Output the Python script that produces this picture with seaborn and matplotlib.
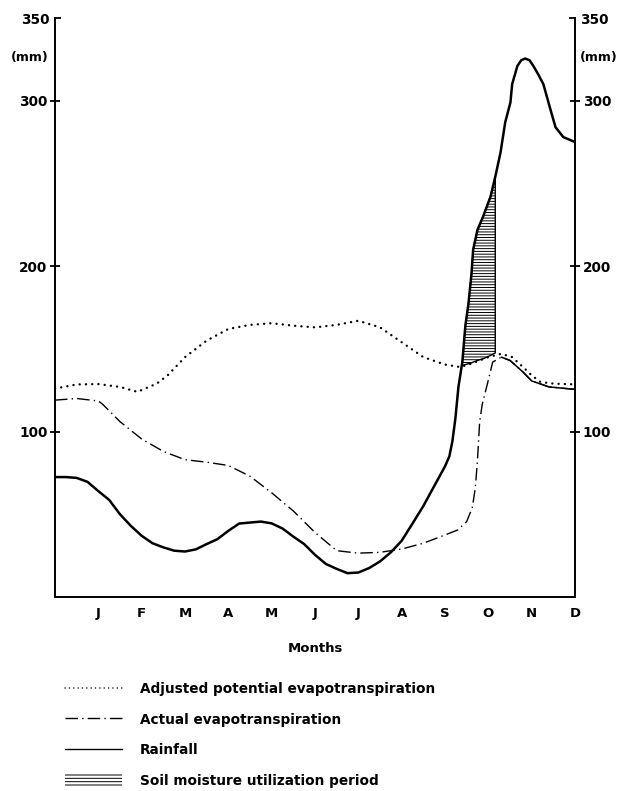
import matplotlib
matplotlib.use("Agg")
import matplotlib.pyplot as plt
from matplotlib.lines import Line2D
from matplotlib.patches import Patch
import seaborn as sns
import pandas as pd

# ---------------- data ----------------
month_labels = ["J", "F", "M", "A", "M", "J", "J", "A", "S", "O", "N", "D"]
month_pos = list(range(1, 13))

pet_month = [0, 0.5, 1.0, 1.5, 1.9, 2.35, 2.6, 3.0, 3.5, 4.0, 4.5, 5.0, 5.5, 6.0,
             6.5, 7.0, 7.5, 8.0, 8.5, 9.0, 9.35, 9.6, 10.0, 10.3, 10.55, 10.8,
             11.0, 11.2, 11.5, 12.0]
pet_value = [126, 128.5, 128.7, 127, 124, 129, 134, 145, 155, 162, 164.5, 165.5,
             164, 163, 164.5, 167, 163, 154, 145, 140.5, 139, 141, 145, 147, 145,
             139, 134, 130, 129, 128.5]

aet_month = [0, 0.5, 1.0, 1.1, 1.5, 2.0, 2.5, 3.0, 3.5, 4.0, 4.5, 5.0, 5.5, 6.0,
             6.5, 7.0, 7.5, 8.0, 8.5, 9.0, 9.3, 9.5, 9.63, 9.7, 9.75, 9.8, 9.86,
             9.98, 10.1, 10.3, 10.5, 10.8, 11.0, 11.4, 12.0]
aet_value = [119, 120, 118.5, 116.5, 106, 95.5, 88, 83, 81.5, 79.5, 73, 63, 52,
             39, 28, 26.5, 27, 29, 32.5, 37.5, 40.6, 45.6, 54, 66, 83, 106, 116.5,
             129, 142, 145, 143, 136, 130.6, 127, 125.5]

rain_month = [0, 0.25, 0.5, 0.75, 1.0, 1.25, 1.5, 1.75, 2.0, 2.25, 2.5, 2.75, 3.0,
              3.25, 3.5, 3.75, 4.0, 4.25, 4.5, 4.75, 5.0, 5.25, 5.5, 5.75, 6.0,
              6.25, 6.5, 6.75, 7.0, 7.25, 7.5, 7.75, 8.0, 8.25, 8.5, 8.75, 9.0,
              9.1, 9.17, 9.24, 9.31, 9.40, 9.47, 9.54, 9.61, 9.65, 9.75, 9.88,
              10.05, 10.16, 10.28, 10.39, 10.51, 10.55, 10.67, 10.76, 10.85, 10.95,
              11.04, 11.15, 11.27, 11.43, 11.55, 11.73, 12.0]
rain_value = [72.5, 72.5, 72, 69.6, 64, 58.7, 50, 43, 37, 32.5, 30, 28, 27.5, 28.8,
              32, 35, 40, 44.4, 45, 45.6, 44.5, 41.4, 36.5, 32, 25.5, 20, 17, 14.4,
              14.8, 17.5, 21.5, 27, 34, 44.4, 55, 67, 79, 85, 94, 108, 127, 142,
              164, 177, 195, 210, 222, 230, 242, 254, 268.5, 287, 299, 310, 321,
              324.5, 325.5, 324.5, 321, 316, 310, 295, 284, 278, 275]

shade_month = [9.40, 9.47, 9.54, 9.61, 9.65, 9.75, 9.88, 10.05, 10.16]
shade_top = [141, 164, 177, 195, 210, 222, 230, 242, 254]
shade_bottom = [140, 140.5, 141, 141.5, 142, 143, 144, 146, 147.5]

y_ticks = [100, 200, 300]
y_top_tick = 350

series_labels = ["Adjusted potential evapotranspiration",
                 "Actual evapotranspiration",
                 "Rainfall",
                 "Soil moisture utilization period"]

# ---------------- style ----------------
sns.set_style("white")
plt.rcParams["font.family"] = ["DejaVu Sans"]
plt.rcParams["font.weight"] = "bold"
plt.rcParams["text.color"] = "black"
plt.rcParams["axes.labelcolor"] = "black"
plt.rcParams["xtick.color"] = "black"
plt.rcParams["ytick.color"] = "black"
plt.rcParams["hatch.linewidth"] = 0.7
plt.rcParams["hatch.color"] = "black"
plt.rcParams["lines.solid_joinstyle"] = "round"

fig = plt.figure(figsize=(6.18, 7.91), dpi=100)
ax = fig.add_axes([55 / 618, 1 - 597 / 791, 520 / 618, 579 / 791])

pet_df = pd.DataFrame({"month": pet_month, "mm": pet_value})
aet_df = pd.DataFrame({"month": aet_month, "mm": aet_value})
rain_df = pd.DataFrame({"month": rain_month, "mm": rain_value})

sns.lineplot(data=pet_df, x="month", y="mm", ax=ax, color="black",
             linewidth=1.7, linestyle=(0, (0.05, 2.6)), dash_capstyle="round",
             estimator=None, sort=False)
sns.lineplot(data=aet_df, x="month", y="mm", ax=ax, color="black",
             linewidth=1.0, linestyle=(0, (9, 3, 1, 3)),
             estimator=None, sort=False)
sns.lineplot(data=aet_df[aet_df["month"] >= 10.3], x="month", y="mm", ax=ax,
             color="black", linewidth=1.1, estimator=None, sort=False)
sns.lineplot(data=rain_df, x="month", y="mm", ax=ax, color="black",
             linewidth=1.8, estimator=None, sort=False)

ax.fill_between(shade_month, shade_bottom, shade_top, facecolor="white",
                edgecolor="black", hatch="------", linewidth=1.0, zorder=1)

ax.set_xlim(0, 12)
ax.set_ylim(0, 350)

ax.set_xticks(month_pos)
ax.set_xticklabels(month_labels)
ax.set_yticks(y_ticks)
ax.set_yticklabels([str(v) for v in y_ticks])
ax.set_yticks([y_top_tick], minor=True)
ax.set_yticklabels([str(y_top_tick)], minor=True)

ax.tick_params(axis="x", length=0, pad=7, labelsize=9.5)
ax.tick_params(axis="y", which="major", direction="inout", length=7, width=1.3,
               left=True, right=True, labelleft=True, labelright=True,
               labelsize=9.8, pad=2)
ax.tick_params(axis="y", which="minor", direction="in", length=4, width=1.3,
               left=True, right=True, labelleft=True, labelright=True,
               labelsize=9.8, pad=4)

for side in ["left", "right", "bottom"]:
    ax.spines[side].set_visible(True)
    ax.spines[side].set_color("black")
    ax.spines[side].set_linewidth(1.4)
ax.spines["top"].set_visible(False)

ax.set_xlabel("Months", fontsize=9.5, fontweight="bold", labelpad=16)
ax.set_ylabel("")

ax.text(-0.012, 326, "(mm)", transform=ax.get_yaxis_transform(), ha="right",
        va="center", fontsize=9, fontweight="bold")
ax.text(1.01, 326, "(mm)", transform=ax.get_yaxis_transform(), ha="left",
        va="center", fontsize=9, fontweight="bold")

handles = [
    Line2D([], [], color="black", linewidth=1.1, linestyle=(0, (0.05, 2.8)),
           dash_capstyle="round"),
    Line2D([], [], color="black", linewidth=1.0, linestyle=(0, (9, 3, 1, 3))),
    Line2D([], [], color="black", linewidth=1.0),
    Patch(facecolor="white", edgecolor="black", hatch="-----", linewidth=0),
]
fig.legend(handles, series_labels, loc="upper left",
           bbox_to_anchor=(65 / 618, 1 - 682 / 791), frameon=False,
           fontsize=9.8, handlelength=4.2, handleheight=1.1, handletextpad=1.3,
           labelspacing=1.2, borderpad=0, borderaxespad=0)

fig.savefig("out.png", dpi=100)
